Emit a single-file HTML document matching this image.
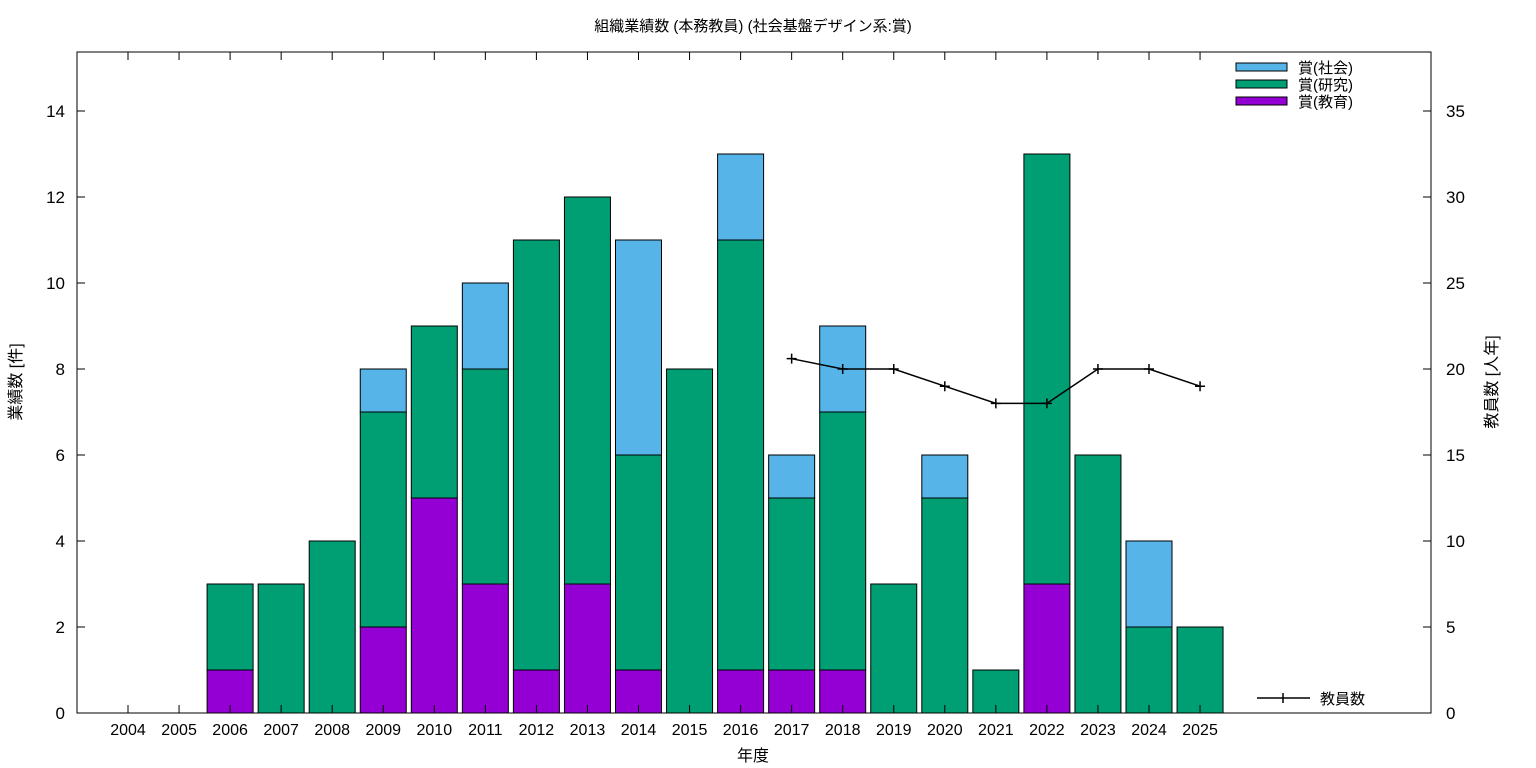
<!DOCTYPE html>
<html><head><meta charset="utf-8"><style>
html,body{margin:0;padding:0;background:#fff;}
svg{display:block;font-family:"Liberation Sans","Noto Sans CJK JP",sans-serif;}
</style></head><body>
<svg id="chart" width="1536" height="768" xmlns="http://www.w3.org/2000/svg"></svg>
<script>
const years=["2004","2005","2006","2007","2008","2009","2010","2011","2012","2013","2014","2015","2016","2017","2018","2019","2020","2021","2022","2023","2024","2025"];
const edu=[0,0,1,0,0,2,5,3,1,3,1,0,1,1,1,0,0,0,3,0,0,0];
const res=[0,0,2,3,4,5,4,5,10,9,5,8,10,4,6,3,5,1,10,6,2,2];
const soc=[0,0,0,0,0,1,0,2,0,0,5,0,2,1,2,0,1,0,0,0,2,0];
const staffYears=["2017","2018","2019","2020","2021","2022","2023","2024","2025"];
const staff=[20.6,20,20,19,18,18,20,20,19];
const yTicks=[0,2,4,6,8,10,12,14];
const y2Ticks=[0,5,10,15,20,25,30,35];
const NS="http://www.w3.org/2000/svg";
const svg=document.getElementById('chart');
const L=77,R=1431,T=52,B=713,YMAX=15.372,Y2MAX=YMAX*2.5;
const xs=i=>128+i*51.05;
const ys=v=>B-(v/YMAX)*(B-T);
const y2s=v=>B-(v/Y2MAX)*(B-T);
function mk(tag,attrs,parent){const e=document.createElementNS(NS,tag);for(const k in attrs)e.setAttribute(k,attrs[k]);(parent||svg).appendChild(e);return e;}
function txt(s,attrs){const e=mk('text',attrs);e.textContent=s;return e;}
const colors={edu:"#9400d3",res:"#009e73",soc:"#56b4e9"};
const bw=46;
years.forEach((y,i)=>{
  let base=0;
  [["edu",edu],["res",res],["soc",soc]].forEach(([k,arr])=>{
    const v=arr[i];if(!v)return;
    const r=mk('rect',{x:xs(i)-bw/2,y:ys(base+v),width:bw,height:ys(base)-ys(base+v),fill:colors[k],stroke:"#000","stroke-width":1});
    
    
    base+=v;
  });
});
// frame
const fr=mk('rect',{x:L,y:T,width:R-L,height:B-T,fill:"none",stroke:"#000","stroke-width":1});

// left ticks
yTicks.forEach(v=>{
  mk('line',{x1:L,x2:L+8,y1:ys(v),y2:ys(v),stroke:"#000"});
  const t=txt(String(v),{x:L-12,y:ys(v)+6,"text-anchor":"end","font-size":17});
  
});
y2Ticks.forEach(v=>{
  mk('line',{x1:R-8,x2:R,y1:y2s(v),y2:y2s(v),stroke:"#000"});
  const t=txt(String(v),{x:R+15,y:y2s(v)+6,"font-size":17});
  
});
years.forEach((y,i)=>{
  mk('line',{x1:xs(i),x2:xs(i),y1:B,y2:B-8,stroke:"#000"});
  mk('line',{x1:xs(i),x2:xs(i),y1:T,y2:T+8,stroke:"#000"});
  const t=txt(y,{x:xs(i),y:735,"text-anchor":"middle","font-size":16});
  
});
// line
const pts=staffYears.map((y,j)=>[xs(years.indexOf(y)),y2s(staff[j])]);
const pl=mk('polyline',{points:pts.map(p=>p.join(',')).join(' '),fill:"none",stroke:"#000","stroke-width":1.5});

pts.forEach(p=>{
  const m=mk('path',{d:`M${p[0]-5},${p[1]}h10M${p[0]},${p[1]-5}v10`,stroke:"#000","stroke-width":1.5});
  
});
</script>
<svg width="0" height="0"></svg>
<script>
const s2=document.getElementById('chart');
s2.insertAdjacentHTML('beforeend',`
<text x="753" y="31" text-anchor="middle" font-size="15">組織業績数 (本務教員) (社会基盤デザイン系:賞)</text>
<text x="753" y="761" text-anchor="middle" font-size="16">年度</text>
<text transform="translate(21,382) rotate(-90)" text-anchor="middle" font-size="16">業績数 [件]</text>
<text transform="translate(1497,382) rotate(-90)" text-anchor="middle" font-size="16">教員数 [人年]</text>
<g font-size="15">
<rect x="1236" y="63" width="51" height="8" fill="#56b4e9" stroke="#000"/>
<text x="1298" y="73">賞(社会)</text>
<rect x="1236" y="80" width="51" height="8" fill="#009e73" stroke="#000"/>
<text x="1298" y="90">賞(研究)</text>
<rect x="1236" y="97" width="51" height="8" fill="#9400d3" stroke="#000"/>
<text x="1298" y="107">賞(教育)</text>
<path d="M1257,698h53M1283,693v10" stroke="#000" stroke-width="1.5"/>
<text x="1320" y="704">教員数</text>
</g>`);
</script>
</body></html>
